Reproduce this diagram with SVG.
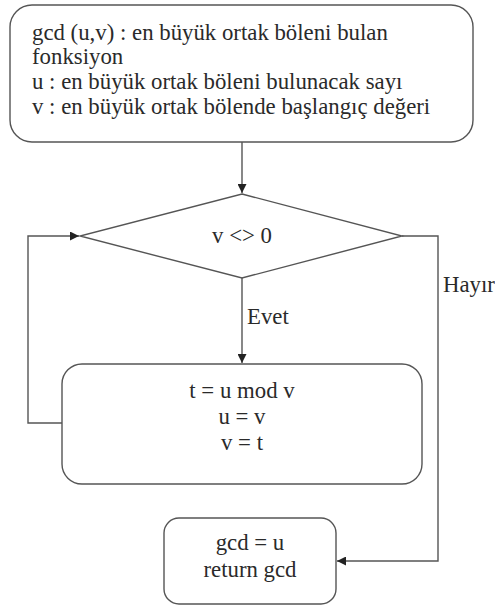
<svg xmlns="http://www.w3.org/2000/svg" width="495" height="606" viewBox="0 0 495 606">
  <style>
    .box { fill: #ffffff; stroke: #555555; stroke-width: 1.4; }
    .line { fill: none; stroke: #555555; stroke-width: 1.4; }
    text { font-family: 'Liberation Serif', 'DejaVu Serif', serif; font-size: 22.8px; fill: #2a2a2a; }
    .mid { text-anchor: middle; }
  </style>
  <defs>
    <marker id="arrow" viewBox="0 0 10 10" refX="10" refY="5" markerWidth="9" markerHeight="9" markerUnits="userSpaceOnUse" orient="auto">
      <path d="M0,0 L10,5 L0,10 z" fill="#222222"/>
    </marker>
  </defs>
  <rect width="495" height="606" fill="#ffffff"/>

  <g id="connectors">
    <line class="line" x1="242" y1="142" x2="242" y2="193" marker-end="url(#arrow)"/>
    <line class="line" x1="242" y1="278" x2="242" y2="363" marker-end="url(#arrow)"/>
    <polyline class="line" points="62,423 28,423 28,236 79,236" marker-end="url(#arrow)"/>
    <polyline class="line" points="402,236 438,236 438,561 337,561" marker-end="url(#arrow)"/>
    <text x="247" y="324">Evet</text>
    <text x="443" y="292">Hayır</text>
  </g>

  <g id="start">
    <rect class="box" x="10" y="5" width="463" height="137" rx="22" ry="22"/>
    <text x="32" y="40">gcd (u,v) : en büyük ortak böleni bulan</text>
    <text x="32" y="64">fonksiyon</text>
    <text x="32" y="89">u : en büyük ortak böleni bulunacak sayı</text>
    <text x="32" y="114">v : en büyük ortak bölende başlangıç değeri</text>
  </g>

  <g id="condition">
    <polygon class="box" points="242,194 402,236 242,278 80,236"/>
    <text class="mid" x="242" y="243">v &lt;&gt; 0</text>
  </g>

  <g id="step">
    <rect class="box" x="62" y="364" width="360" height="120" rx="20" ry="20"/>
    <text class="mid" x="242" y="398">t = u mod v</text>
    <text class="mid" x="242" y="424">u = v</text>
    <text class="mid" x="242" y="450">v = t</text>
  </g>

  <g id="result">
    <rect class="box" x="164" y="518" width="172" height="86" rx="15" ry="15"/>
    <text class="mid" x="250" y="550">gcd = u</text>
    <text class="mid" x="250" y="577">return gcd</text>
  </g>
</svg>
